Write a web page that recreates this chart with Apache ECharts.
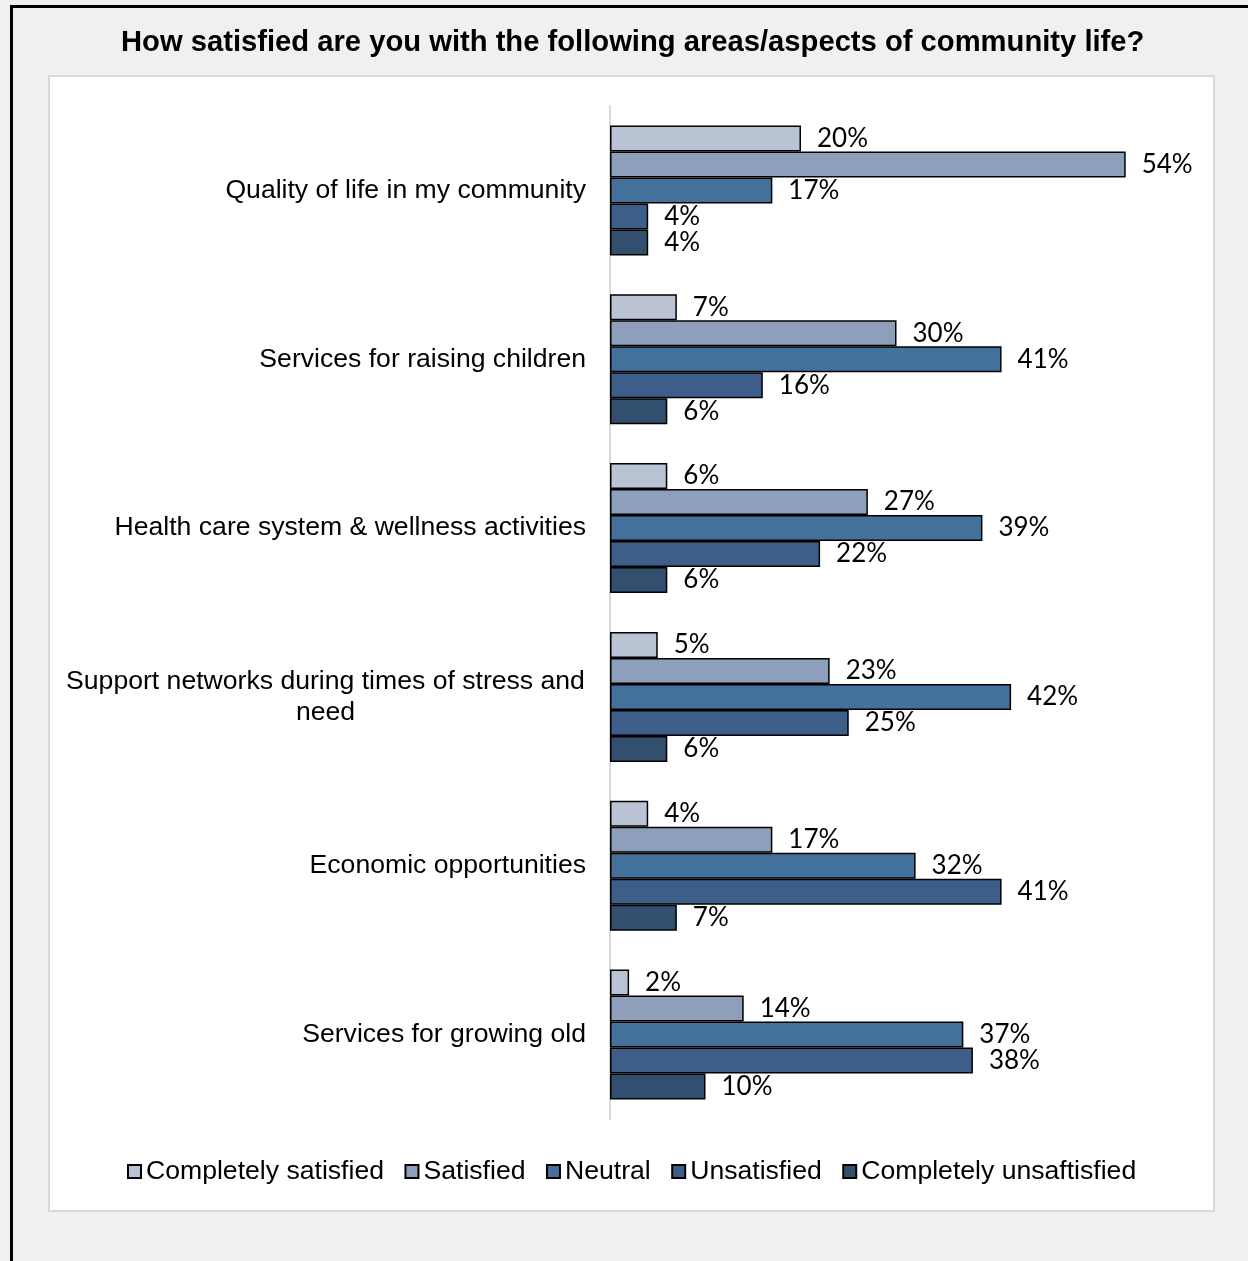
<!DOCTYPE html>
<html>
<head>
<meta charset="utf-8">
<title>Community life satisfaction</title>
<script src="https://cdn.jsdelivr.net/npm/echarts@6/dist/echarts.min.js"></script>
<style>
  html, body { margin: 0; padding: 0; background: #f0f0f0; }
  #wrap { position: relative; width: 1248px; height: 1261px; overflow: hidden; background: #f0f0f0; }
  #frame { position: absolute; left: 10px; top: 5px; width: 1400px; height: 1400px; border-left: 3px solid #000; border-top: 3px solid #000; }
  #panel { position: absolute; left: 48px; top: 75px; width: 1163px; height: 1133px; background: #fff; border: 2px solid #d9d9d9; }
  #chart { position: absolute; left: 0; top: 0; width: 1248px; height: 1261px; }
</style>
</head>
<body>
<div id="wrap">
  <div id="frame"></div>
  <div id="panel"></div>
  <div id="chart"></div>
</div>
<script>
const categories = [
  'Quality of life in my community',
  'Services for raising children',
  'Health care system & wellness activities',
  'Support networks during times of stress and need',
  'Economic opportunities',
  'Services for growing old'
]
const seriesNames = ['Completely satisfied', 'Satisfied', 'Neutral', 'Unsatisfied', 'Completely unsaftisfied']
const completelySatisfied = [20, 7, 6, 5, 4, 2]
const satisfied = [54, 30, 27, 23, 17, 14]
const neutral = [17, 41, 39, 42, 32, 37]
const unsatisfied = [4, 16, 22, 25, 41, 38]
const completelyUnsatisfied = [4, 6, 6, 6, 7, 10]
const colors = ['#b9c3d3', '#8d9fba', '#44709c', '#3c5e89', '#334f6f']

const seriesData = [completelySatisfied, satisfied, neutral, unsatisfied, completelyUnsatisfied]

const chart = echarts.init(document.getElementById('chart'))
const option = {
  backgroundColor: 'transparent',
  animation: false,
  color: colors,
  title: {
    text: 'How satisfied are you with the following areas/aspects of community life?',
    left: 116,
    top: 23,
    textStyle: {
      fontFamily: 'Liberation Sans, Arial, sans-serif',
      fontWeight: 'bold',
      fontSize: 29.2,
      color: '#000'
    }
  },
  legend: {
    bottom: 71,
    left: 122,
    itemWidth: 13,
    itemHeight: 13,
    itemGap: 20.5,
    icon: 'rect',
    data: seriesNames,
    textStyle: {
      fontFamily: 'Liberation Sans, Arial, sans-serif',
      fontSize: 26.6,
      color: '#000',
      padding: [0, 0, 0, 0]
    }
  },
  grid: {
    left: 610,
    top: 106,
    width: 573,
    height: 1013
  },
  xAxis: {
    type: 'value',
    min: 0,
    max: 60,
    show: false
  },
  yAxis: {
    type: 'category',
    inverse: true,
    data: categories,
    axisLine: { lineStyle: { color: '#d9d9d9', width: 2 } },
    axisTick: { show: false },
    axisLabel: {
      margin: 24,
      fontFamily: 'Liberation Sans, Arial, sans-serif',
      fontSize: 26.6,
      color: '#000',
      formatter: function (v) {
        if (v.indexOf('Support networks') === 0) {
          return '{w|Support networks during times of stress and\nneed}'
        }
        return v
      },
      rich: {
        w: {
          width: 521,
          align: 'center',
          fontFamily: 'Liberation Sans, Arial, sans-serif',
          fontSize: 26.6,
          lineHeight: 31,
          color: '#000'
        }
      }
    }
  },
  series: seriesNames.map((name, i) => ({
    name: name,
    type: 'bar',
    data: seriesData[i],
    barGap: 0,
    barCategoryGap: '23%',
    itemStyle: {
      color: colors[i],
      borderColor: '#000',
      borderWidth: 1.5
    },
    label: {
      show: true,
      position: 'right',
      distance: 16,
      formatter: '{c}%',
      fontFamily: 'Lato, Carlito, sans-serif',
      fontSize: 26,
      color: '#000'
    }
  }))
}
chart.setOption(option)
</script>
</body>
</html>
